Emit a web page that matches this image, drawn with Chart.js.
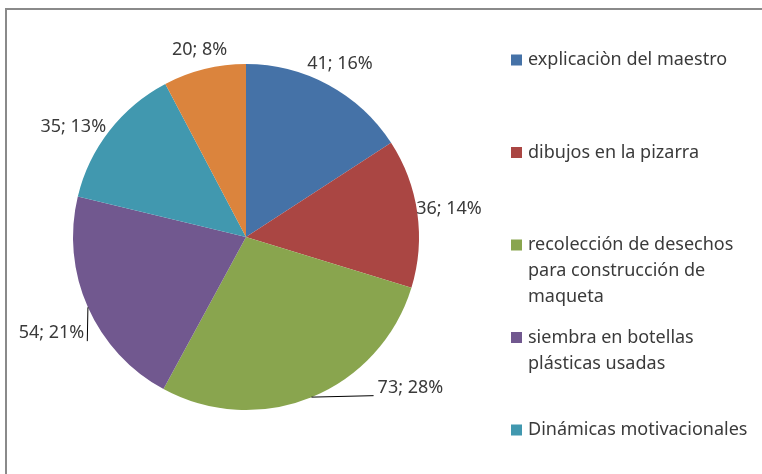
<!DOCTYPE html>
<html>
<head>
<meta charset="utf-8">
<script src="https://cdn.jsdelivr.net/npm/chart.js@4.4.1/dist/chart.umd.min.js"></script>
<style>
  html, body { margin: 0; padding: 0; background: #fff; }
  #wrap { position: relative; width: 762px; height: 474px; }
</style>
</head>
<body>
<div id="wrap"><canvas id="pieChart" width="762" height="474"></canvas></div>
<script>
// data
const categories = [
    'explicaciòn del maestro',
    'dibujos en la pizarra',
    'recolección de desechos para construcción de maqueta',
    'siembra en botellas plásticas usadas',
    'Dinámicas motivacionales',
    'otros'
];
const values = [41, 36, 73, 54, 35, 20];
const percents = [16, 14, 28, 21, 13, 8];

// legend lines as wrapped in the original
const legendLines = [
    ['explicaciòn del maestro'],
    ['dibujos en la pizarra'],
    ['recolección de desechos', 'para construcción de', 'maqueta'],
    ['siembra en botellas', 'plásticas usadas'],
    ['Dinámicas motivacionales'],
    ['otros']
];

const colors = ['#4572A7', '#AA4643', '#89A54E', '#71588F', '#4198AF', '#DB843D'];
const FONT = '18px "Noto Sans", "Open Sans", sans-serif';
const TEXT = '#3a3a3a';

// label placement: angle (deg clockwise from top, null = slice middle), distance from centre, leader side
const labelPlace = [
    { angle: null, dist: 197 },
    { angle: null, dist: 205 },
    { angle: 132.5, dist: 223, leader: 'left' },
    { angle: 243.7, dist: 217, leader: 'right' },
    { angle: 302.6, dist: 205 },
    { angle: null, dist: 193 }
];

const framePlugin = {
    id: 'frame',
    beforeDraw(chart) {
        const c = chart.ctx;
        c.save();
        c.strokeStyle = '#8a8a8a';
        c.lineWidth = 2;
        c.beginPath();
        c.moveTo(6, 480);
        c.lineTo(6, 9);
        c.lineTo(770, 9);
        c.stroke();
        c.restore();
    }
};

const labelPlugin = {
    id: 'sliceLabels',
    afterDatasetsDraw(chart) {
        const c = chart.ctx;
        const meta = chart.getDatasetMeta(0);
        c.save();
        c.font = FONT;
        c.fillStyle = TEXT;
        c.textBaseline = 'middle';
        c.textAlign = 'center';
        meta.data.forEach((arc, i) => {
            const p = arc.getProps(['x', 'y', 'startAngle', 'endAngle', 'outerRadius'], true);
            const mid = (p.startAngle + p.endAngle) / 2;
            const pl = labelPlace[i];
            const ang = pl.angle === null ? mid : (pl.angle - 90) * Math.PI / 180;
            const lx = p.x + Math.cos(ang) * pl.dist;
            const ly = p.y + Math.sin(ang) * pl.dist;
            const txt = values[i] + '; ' + percents[i] + '%';
            c.fillText(txt, lx, ly);
            if (pl.leader) {
                const w = c.measureText(txt).width;
                const sx = p.x + Math.cos(mid) * p.outerRadius;
                const sy = p.y + Math.sin(mid) * p.outerRadius;
                const ex = pl.leader === 'left' ? lx - w / 2 - 4 : lx + w / 2 + 3;
                const ey = ly + 8;
                c.strokeStyle = '#000';
                c.lineWidth = 1;
                c.beginPath();
                c.moveTo(sx, sy);
                c.lineTo(ex, ey);
                c.stroke();
            }
        });
        c.restore();
    }
};

const legendPlugin = {
    id: 'sideLegend',
    afterDraw(chart) {
        const c = chart.ctx;
        c.save();
        c.font = FONT;
        c.textBaseline = 'middle';
        c.textAlign = 'left';
        let y = 60;
        legendLines.forEach((lines, i) => {
            c.fillStyle = colors[i];
            c.fillRect(511, y - 5.5, 11, 11);
            c.fillStyle = TEXT;
            lines.forEach((ln, k) => c.fillText(ln, 528, y + k * 26));
            y += 92.5;
        });
        c.restore();
    }
};

new Chart(document.getElementById('pieChart'), {
    type: 'pie',
    data: {
        labels: categories,
        datasets: [{
            data: values,
            backgroundColor: colors,
            borderWidth: 0
        }]
    },
    options: {
        responsive: false,
        animation: false,
        layout: { padding: { left: 73, top: 64, right: 343, bottom: 64 } },
        plugins: { legend: { display: false }, tooltip: { enabled: false } }
    },
    plugins: [framePlugin, labelPlugin, legendPlugin]
});
</script>
</body>
</html>
